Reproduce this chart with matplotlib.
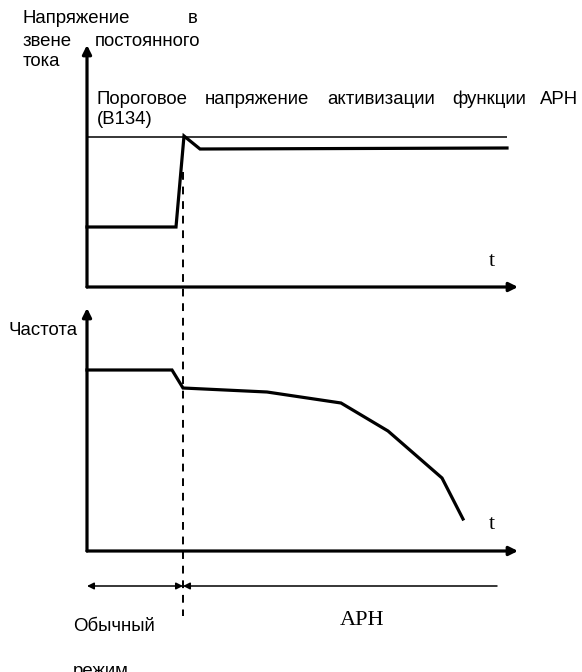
import matplotlib
matplotlib.use("Agg")
import matplotlib.pyplot as plt

# Canvas units: x to the right, y downward (rows), 582 x 672
W, H = 582, 672

# DC-bus voltage trace (time, level)
voltage_t = [87, 176, 184, 200, 507]
voltage_v = [227, 227, 136, 149, 148]
threshold_v = 137
threshold_t = [87, 507]

# Output frequency trace
freq_t = [87, 172, 183, 267, 341, 388, 442, 463]
freq_v = [370, 370, 388, 392, 403, 431, 478, 519]

# Axes of the two panels: origin, y-arrow tip, x-arrow tip
top_origin, top_ytip, top_xtip = (87, 287), 45, 518
bot_origin, bot_ytip, bot_xtip = (87, 551), 308, 518

# Moment the threshold is reached and the interval bars
t_switch = 183
dash_span = (172, 616)
interval_y = 586
interval_start, interval_end = 87, 497

SANS = "Liberation Sans"
SERIF = "Liberation Serif"
FS = 13.4

fig = plt.figure(figsize=(W / 100, H / 100), dpi=100)
ax = fig.add_axes([0, 0, 1, 1])
ax.set_xlim(0, W)
ax.set_ylim(H, 0)
ax.axis("off")

LW = 2.3


def axis_arrow(x0, y0, x1, y1, lw=LW, style="-|>", scale=13):
    ax.annotate("", xy=(x1, y1), xytext=(x0, y0),
                arrowprops=dict(arrowstyle=style, lw=lw, color="black",
                                mutation_scale=scale, shrinkA=0, shrinkB=0))


# top panel axes
ox, oy = top_origin
axis_arrow(ox, oy, ox, top_ytip)
axis_arrow(ox, oy, top_xtip, oy)

# bottom panel axes
ox, oy = bot_origin
axis_arrow(ox, oy, ox, bot_ytip)
axis_arrow(ox, oy, bot_xtip, oy)

# threshold and traces
ax.plot(threshold_t, [threshold_v] * 2, color="black", lw=1.1, solid_capstyle="butt")
ax.plot(voltage_t, voltage_v, color="black", lw=LW, solid_joinstyle="miter")
ax.plot(freq_t, freq_v, color="black", lw=LW, solid_joinstyle="miter")

# switching instant
ax.plot([t_switch, t_switch], dash_span, color="black", lw=1.4,
        linestyle=(0, (4, 3.5)))

# interval arrows
axis_arrow(interval_start, interval_y, t_switch, interval_y, lw=1.1,
           style="<|-|>", scale=10)
axis_arrow(interval_end, interval_y, t_switch, interval_y, lw=1.1,
           style="-|>", scale=10)

# labels (justified lines are placed word by word)
txt = dict(fontsize=FS, family=SANS, va="baseline", ha="left")
for word, x in [("Напряжение", 23), ("в", 188)]:
    ax.text(x, 23, word, **txt)
for word, x in [("звене", 23), ("постоянного", 95)]:
    ax.text(x, 46, word, **txt)
ax.text(23, 66, "тока", **txt)

for word, x in [("Пороговое", 97), ("напряжение", 205), ("активизации", 327),
                ("функции", 452)]:
    ax.text(x, 104, word, **txt)
ax.text(578, 104, "АРН", **{**txt, "ha": "right"})
ax.text(97, 124, "(В134)", **txt)

ax.text(9, 335, "Частота", **txt)
ax.text(73, 631, "Обычный", **txt)
ax.text(73, 676, "режим", **txt)

serif = dict(fontsize=16, family=SERIF, ha="center", va="baseline")
ax.text(492, 266, "t", **serif)
ax.text(492, 529, "t", **serif)
ax.text(362, 625, "АРН", **serif)

fig.savefig("out.png", dpi=100)
